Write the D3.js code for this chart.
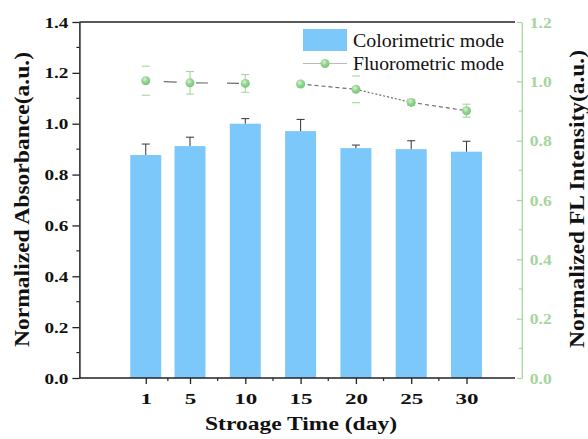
<!DOCTYPE html>
<html><head><meta charset="utf-8">
<script src="https://cdn.jsdelivr.net/npm/d3@7"></script>
<style>
html,body{margin:0;padding:0;background:#fff;}
svg{display:block;font-family:"Liberation Serif","Times New Roman",serif;}
</style></head>
<body>
<svg id="chart" width="588" height="439"></svg>
<script>
// ---- data ----
const days = [1, 5, 10, 15, 20, 25, 30];
const absorbance = [0.877, 0.912, 1.000, 0.971, 0.904, 0.900, 0.890];
const absorbanceErr = [0.043, 0.035, 0.020, 0.046, 0.012, 0.033, 0.041];
const flIntensity = [1.002, 0.995, 0.993, 0.991, 0.973, 0.929, 0.901];
const flErr = [0.049, 0.038, 0.030, 0.005, 0.045, 0.010, 0.022];
const xTickLabels = ["1", "5", "10", "15", "20", "25", "30"];
const xMinorTicks = [3, 7.5, 12.5, 17.5, 22.5, 27.5];
const leftTicks = [0, 0.2, 0.4, 0.6, 0.8, 1.0, 1.2, 1.4];
const rightTicks = [0, 0.2, 0.4, 0.6, 0.8, 1.0, 1.2];
const seriesNames = ["Colorimetric mode", "Fluorometric mode"];
// styles (not data): dash of each connecting segment, error-bar stem opacity
const segmentDash = ["0,18,13,100", "0,6,12,19,12,100", "0,1000", "4,3", "2,2", "4,3"];
const stemOpacity = [0, 1, 1, 1, 0, 1, 1];

// ---- layout ----
const svg = d3.select("#chart");
const L = 79.4, R = 521.8, T = 22, B = 378;
const frameRight = 515;
const barColor = "#7cc8fb";
const green = "#a6d59e";
const pointGreen = "#8fd28c";

const x = d3.scaleLinear().domain([-5, 35]).range([L, R]);
const yL = d3.scaleLinear().domain([0, 1.4]).range([B, T]);
const yR = d3.scaleLinear().domain([0, 1.2]).range([B, T]);

const defs = svg.append("defs");
const grad = defs.append("radialGradient").attr("id", "ball").attr("cx", "40%").attr("cy", "35%").attr("r", "65%");
grad.append("stop").attr("offset", "0%").attr("stop-color", "#d8f2d4");
grad.append("stop").attr("offset", "55%").attr("stop-color", pointGreen);
grad.append("stop").attr("offset", "100%").attr("stop-color", "#7cc77a");

// bars
const barW = 31;
svg.append("g").selectAll("rect").data(days).join("rect")
  .attr("x", d => x(d) - barW / 2)
  .attr("y", (d, i) => yL(absorbance[i]))
  .attr("width", barW)
  .attr("height", (d, i) => yL(0) - yL(absorbance[i]))
  .attr("fill", barColor);

// bar error bars (upper only)
const be = svg.append("g").attr("stroke", "#333").attr("stroke-width", 1);
days.forEach((d, i) => {
  const xc = x(d), y0 = yL(absorbance[i]), y1 = yL(absorbance[i] + absorbanceErr[i]);
  be.append("line").attr("x1", xc).attr("x2", xc).attr("y1", y0).attr("y2", y1);
  be.append("line").attr("x1", xc - 4).attr("x2", xc + 4).attr("y1", y1).attr("y2", y1);
});

// connecting segments of fluorometric series
const seg = svg.append("g").attr("stroke", "#6f6f6f").attr("stroke-width", 1.2).attr("fill", "none");
for (let i = 0; i < days.length - 1; i++) {
  seg.append("line")
    .attr("x1", x(days[i])).attr("y1", yR(flIntensity[i]))
    .attr("x2", x(days[i + 1])).attr("y2", yR(flIntensity[i + 1]))
    .attr("stroke-dasharray", segmentDash[i]);
}

// fl error bars
const fe = svg.append("g").attr("stroke", green).attr("stroke-width", 1.1);
days.forEach((d, i) => {
  const xc = x(d), yt = yR(flIntensity[i] + flErr[i]), yb = yR(flIntensity[i] - flErr[i]);
  fe.append("line").attr("x1", xc).attr("x2", xc).attr("y1", yt).attr("y2", yb).attr("stroke-opacity", stemOpacity[i]);
  fe.append("line").attr("x1", xc - 4).attr("x2", xc + 4).attr("y1", yt).attr("y2", yt);
  fe.append("line").attr("x1", xc - 4).attr("x2", xc + 4).attr("y1", yb).attr("y2", yb);
});

// points
svg.append("g").selectAll("circle").data(days).join("circle")
  .attr("cx", d => x(d))
  .attr("cy", (d, i) => yR(flIntensity[i]))
  .attr("r", 4.5)
  .attr("fill", "url(#ball)");

// ---- axes ----
const axisColor = "#222";
svg.append("line").attr("x1", L).attr("x2", frameRight).attr("y1", T).attr("y2", T)
  .attr("stroke", axisColor).attr("stroke-width", 1.3);

// bottom axis
const gx = svg.append("g").attr("transform", `translate(0,${B})`)
  .call(d3.axisBottom(x).tickValues(days).tickFormat((d, i) => xTickLabels[i]).tickSize(6).tickSizeOuter(0));
gx.select(".domain").remove();
gx.append("line").attr("x1", L).attr("x2", frameRight).attr("stroke", axisColor).attr("stroke-width", 1.5);
gx.selectAll(".tick line").attr("stroke", axisColor).attr("stroke-width", 1.3);
gx.selectAll(".tick text")
  .attr("fill", "#111").attr("font-size", 15).attr("font-weight", "bold")
  .attr("font-family", "Liberation Serif")
  .attr("y", 0).attr("dy", 0)
  .attr("transform", "translate(0,26)")
  .attr("textLength", d => String(d).length * 11.5)
  .attr("lengthAdjust", "spacingAndGlyphs");
gx.selectAll(".minor").data(xMinorTicks).join("line").attr("class", "minor")
  .attr("x1", d => x(d)).attr("x2", d => x(d)).attr("y1", 0).attr("y2", 3)
  .attr("stroke", axisColor).attr("stroke-width", 1.2);

// left axis
const gl = svg.append("g").attr("transform", `translate(${L},0)`)
  .call(d3.axisLeft(yL).tickValues(leftTicks).tickFormat(d3.format(".1f")).tickSize(7).tickSizeOuter(0));
gl.select(".domain").attr("stroke", axisColor).attr("stroke-width", 1.5);
gl.selectAll(".tick line").attr("stroke", axisColor).attr("stroke-width", 1.3);
gl.selectAll(".tick text")
  .attr("fill", "#111").attr("font-size", 15).attr("font-weight", "bold")
  .attr("font-family", "Liberation Serif")
  .attr("x", -11).attr("dy", "0.34em")
  .attr("textLength", 24).attr("lengthAdjust", "spacingAndGlyphs");
gl.selectAll(".minor").data(d3.range(1, 14, 2).map(v => v / 10)).join("line").attr("class", "minor")
  .attr("x1", -3).attr("x2", 0).attr("y1", d => yL(d)).attr("y2", d => yL(d))
  .attr("stroke", axisColor).attr("stroke-width", 1.2);

// right axis (green)
const gr = svg.append("g").attr("transform", `translate(${R},0)`)
  .call(d3.axisRight(yR).tickValues(rightTicks).tickFormat(d3.format(".1f")).tickSize(-5).tickSizeOuter(0).tickPadding(9));
gr.select(".domain").attr("stroke", green).attr("stroke-width", 1.3);
gr.selectAll(".tick line").attr("stroke", green).attr("stroke-width", 1.2);
gr.selectAll(".tick text")
  .attr("fill", green).attr("font-size", 15).attr("font-weight", "bold")
  .attr("font-family", "Liberation Serif")
  .attr("x", 8).attr("dy", "0.34em")
  .attr("textLength", 22).attr("lengthAdjust", "spacingAndGlyphs");
gr.selectAll(".minor").data(d3.range(1, 12, 2).map(v => v / 10)).join("line").attr("class", "minor")
  .attr("x1", -3).attr("x2", 0).attr("y1", d => yR(d)).attr("y2", d => yR(d))
  .attr("stroke", green).attr("stroke-width", 1.1);

// ---- titles ----
svg.append("text").attr("x", 301).attr("y", 430).attr("text-anchor", "middle")
  .attr("font-size", 19).attr("font-weight", "bold").attr("fill", "#111")
  .attr("textLength", 192).attr("lengthAdjust", "spacingAndGlyphs")
  .text("Stroage Time (day)");

svg.append("text").attr("transform", "translate(28.5,199.5) rotate(-90)").attr("text-anchor", "middle")
  .attr("font-size", 22).attr("font-weight", "bold").attr("fill", "#111")
  .attr("textLength", 295).attr("lengthAdjust", "spacingAndGlyphs")
  .text("Normalized Absorbance(a.u.)");

svg.append("text").attr("transform", "translate(584,199) rotate(-90)").attr("text-anchor", "middle")
  .attr("font-size", 22).attr("font-weight", "bold").attr("fill", "#111")
  .attr("textLength", 298).attr("lengthAdjust", "spacingAndGlyphs")
  .text("Normalized FL Intensity(a.u.)");

// ---- legend ----
const lg = svg.append("g");
lg.append("rect").attr("x", 303).attr("y", 29).attr("width", 44).attr("height", 22).attr("fill", barColor);
lg.append("line").attr("x1", 303).attr("x2", 347).attr("y1", 63.5).attr("y2", 63.5)
  .attr("stroke", "#bbb").attr("stroke-width", 1);
lg.append("circle").attr("cx", 325).attr("cy", 63.5).attr("r", 4.5).attr("fill", "url(#ball)");
lg.selectAll("text").data(seriesNames).join("text")
  .attr("x", 353).attr("y", (d, i) => 47 + i * 23)
  .attr("font-size", 18).attr("fill", "#111")
  .attr("textLength", 151).attr("lengthAdjust", "spacingAndGlyphs")
  .text(d => d);
</script>
</body></html>
